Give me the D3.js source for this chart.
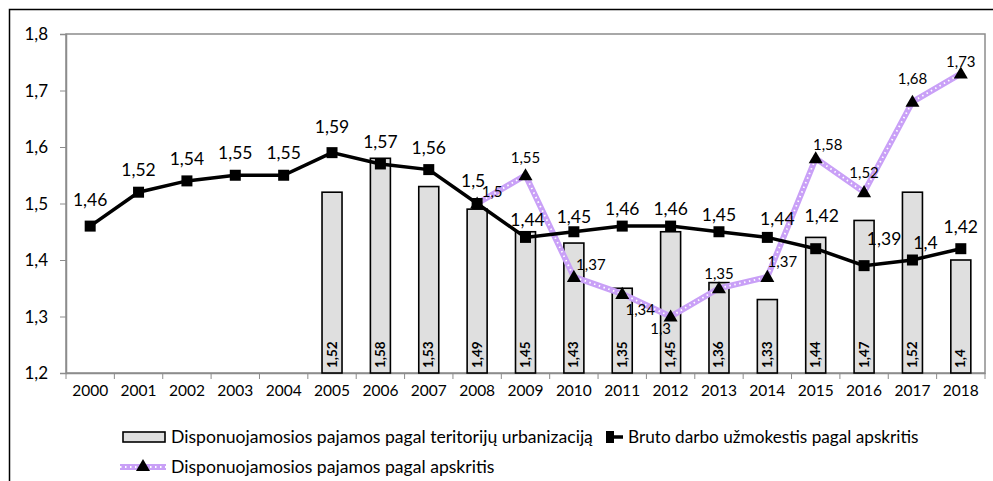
<!DOCTYPE html>
<html>
<head>
<meta charset="utf-8">
<script src="https://cdn.jsdelivr.net/npm/d3@7"></script>
<style>
  body { margin: 0; background: #fff; }
  svg text { font-family: Lato, "Open Sans", sans-serif; fill: #000; }
</style>
</head>
<body>
<div class="chart"></div>
<script>
const years = ["2000","2001","2002","2003","2004","2005","2006","2007","2008","2009","2010","2011","2012","2013","2014","2015","2016","2017","2018"];
const barYears = ["2005","2006","2007","2008","2009","2010","2011","2012","2013","2014","2015","2016","2017","2018"];
const barValues = [1.52, 1.58, 1.53, 1.49, 1.45, 1.43, 1.35, 1.45, 1.36, 1.33, 1.44, 1.47, 1.52, 1.4];
const bruto = [1.46, 1.52, 1.54, 1.55, 1.55, 1.59, 1.57, 1.56, 1.5, 1.44, 1.45, 1.46, 1.46, 1.45, 1.44, 1.42, 1.39, 1.4, 1.42];
const apsYears = ["2008","2009","2010","2011","2012","2013","2014","2015","2016","2017","2018"];
const apskritis = [1.5, 1.55, 1.37, 1.34, 1.3, 1.35, 1.37, 1.58, 1.52, 1.68, 1.73];
const yTicks = [1.2, 1.3, 1.4, 1.5, 1.6, 1.7, 1.8];
const seriesNames = [
    "Disponuojamosios pajamos pagal teritorijų urbanizaciją",
    "Bruto darbo užmokestis pagal apskritis",
    "Disponuojamosios pajamos pagal apskritis"
];

const svgWidth = 993;
const svgHeight = 481;
const plotLeft = 66, plotRight = 985, plotTop = 34, plotBottom = 373;
const fmt = v => String(v).replace(".", ",");

// label nudges (label centre relative to the point)
const brutoOffsets = {"2000": [0, -26], "2005": [0, -26], "2008": [-4, -23], "2009": [2, -18], "2010": [0, -15],
    "2011": [0, -17], "2012": [0, -17], "2013": [0, -17], "2014": [10, -19], "2015": [6, -33], "2016": [20, -27], "2017": [13, -17]};
const apsOffsets = {"2008": [15, -12], "2009": [0, -18], "2010": [17, -12], "2011": [18, 16], "2012": [-10, 12],
    "2013": [0, -15], "2014": [15, -15], "2015": [12, -14], "2016": [0, -19], "2017": [0, -23], "2018": [0, -12]};

let svg = d3.select(".chart")
    .append("svg")
    .attr("width", svgWidth)
    .attr("height", svgHeight)

// outer frame
svg.append("rect")
    .attr("x", 9.5).attr("y", 9.5)
    .attr("width", 1000).attr("height", 600)
    .attr("fill", "none")
    .attr("stroke", "#000")
    .attr("stroke-width", 1.5)

let xScale = d3.scaleBand()
    .domain(years)
    .range([plotLeft, plotRight])

let yScale = d3.scaleLinear()
    .domain([1.2, 1.8])
    .range([plotBottom, plotTop])

// plot area border
svg.append("rect")
    .attr("x", plotLeft).attr("y", plotTop)
    .attr("width", plotRight - plotLeft).attr("height", plotBottom - plotTop)
    .attr("fill", "none")
    .attr("stroke", "#8c8c8c")
    .attr("stroke-width", 1.5)

let yAxis = d3.axisLeft()
    .scale(yScale)
    .tickValues(yTicks)
    .tickFormat(d => fmt(d))
    .tickSize(6)
    .tickPadding(12)

let yAxisGroup = svg.append("g")
    .attr("transform", `translate(${plotLeft}, 0)`)
    .call(yAxis)
yAxisGroup.select(".domain").attr("stroke", "#8c8c8c").attr("stroke-width", 1.5)
yAxisGroup.selectAll(".tick line").attr("stroke", "#8c8c8c")
yAxisGroup.selectAll(".tick text").style("font-size", "17px").attr("dy", "0.35em")

let xAxisGroup = svg.append("g")
    .attr("transform", `translate(0, ${plotBottom})`)
    .call(d3.axisBottom().scale(xScale).tickSize(0).tickPadding(12))
xAxisGroup.select(".domain").attr("stroke", "#8c8c8c").attr("stroke-width", 1.5)
xAxisGroup.selectAll(".tick text").style("font-size", "15.5px")

// ticks between categories
svg.append("g").selectAll("line")
    .data(years.concat(["end"]))
    .enter().append("line")
    .attr("x1", (d, i) => plotLeft + i * xScale.bandwidth())
    .attr("x2", (d, i) => plotLeft + i * xScale.bandwidth())
    .attr("y1", plotBottom).attr("y2", plotBottom + 6)
    .attr("stroke", "#8c8c8c")

// bars
const barW = 20;
const bars = barYears.map((y, i) => ({year: y, value: barValues[i]}));
svg.append("g").selectAll("rect")
    .data(bars)
    .enter().append("rect")
    .attr("x", d => xScale(d.year) + xScale.bandwidth() / 2 - barW / 2)
    .attr("y", d => yScale(d.value))
    .attr("width", barW)
    .attr("height", d => plotBottom - yScale(d.value))
    .attr("fill", "#dfdfdf")
    .attr("stroke", "#000")
    .attr("stroke-width", 1.6)

svg.append("g").selectAll("text")
    .data(bars)
    .enter().append("text")
    .attr("transform", d => `translate(${xScale(d.year) + xScale.bandwidth() / 2 + 4.5}, ${plotBottom - 5}) rotate(-90)`)
    .style("font-size", "13.5px")
    .style("font-weight", "bold")
    .text(d => fmt(d.value))

const cx = y => xScale(y) + xScale.bandwidth() / 2;

// purple line
const aps = apsYears.map((y, i) => ({year: y, value: apskritis[i]}));
const apsLine = d3.line().x(d => cx(d.year)).y(d => yScale(d.value));
svg.append("path")
    .datum(aps)
    .attr("d", apsLine)
    .attr("fill", "none")
    .attr("stroke", "#c9a0f7")
    .attr("stroke-width", 6)
svg.append("path")
    .datum(aps)
    .attr("d", apsLine)
    .attr("fill", "none")
    .attr("stroke", "#fff")
    .attr("stroke-width", 1.8)
    .attr("stroke-dasharray", "1.5,3.5")

// black line
const br = years.map((y, i) => ({year: y, value: bruto[i]}));
svg.append("path")
    .datum(br)
    .attr("d", d3.line().x(d => cx(d.year)).y(d => yScale(d.value)))
    .attr("fill", "none")
    .attr("stroke", "#000")
    .attr("stroke-width", 3.5)

svg.append("g").selectAll("rect")
    .data(br)
    .enter().append("rect")
    .attr("x", d => cx(d.year) - 5.5)
    .attr("y", d => yScale(d.value) - 5.5)
    .attr("width", 11).attr("height", 11)
    .attr("fill", "#000")

svg.append("g").selectAll("path")
    .data(aps)
    .enter().append("path")
    .attr("d", d3.symbol().type(d3.symbolTriangle).size(85))
    .attr("transform", d => `translate(${cx(d.year)}, ${yScale(d.value) + 1})`)
    .attr("fill", "#000")

// value labels
svg.append("g").selectAll("text")
    .data(br)
    .enter().append("text")
    .attr("x", d => cx(d.year) + (brutoOffsets[d.year] || [0, -22])[0])
    .attr("y", d => yScale(d.value) + (brutoOffsets[d.year] || [0, -22])[1])
    .attr("dy", "0.35em")
    .attr("text-anchor", "middle")
    .style("font-size", "17.5px")
    .text(d => fmt(d.value))

svg.append("g").selectAll("text")
    .data(aps)
    .enter().append("text")
    .attr("x", d => cx(d.year) + apsOffsets[d.year][0])
    .attr("y", d => yScale(d.value) + apsOffsets[d.year][1])
    .attr("dy", "0.35em")
    .attr("text-anchor", "middle")
    .style("font-size", "15px")
    .text(d => fmt(d.value))

// legend
let legend = svg.append("g")
legend.append("rect")
    .attr("x", 123).attr("y", 432)
    .attr("width", 42).attr("height", 10)
    .attr("fill", "#dfdfdf").attr("stroke", "#000").attr("stroke-width", 1.6)
legend.append("text")
    .attr("x", 171).attr("y", 437).attr("dy", "0.35em")
    .style("font-size", "17.6px")
    .text(seriesNames[0])

legend.append("line")
    .attr("x1", 607).attr("x2", 623).attr("y1", 437).attr("y2", 437)
    .attr("stroke", "#000").attr("stroke-width", 3.5)
legend.append("rect")
    .attr("x", 606).attr("y", 431).attr("width", 8).attr("height", 12).attr("fill", "#000")
legend.append("text")
    .attr("x", 628).attr("y", 437).attr("dy", "0.35em")
    .style("font-size", "17.2px")
    .text(seriesNames[1])

legend.append("line")
    .attr("x1", 120).attr("x2", 166).attr("y1", 467).attr("y2", 467)
    .attr("stroke", "#c9a0f7").attr("stroke-width", 6)
legend.append("line")
    .attr("x1", 120).attr("x2", 166).attr("y1", 467).attr("y2", 467)
    .attr("stroke", "#fff").attr("stroke-width", 1.8).attr("stroke-dasharray", "1.5,3.5")
legend.append("path")
    .attr("d", d3.symbol().type(d3.symbolTriangle).size(85))
    .attr("transform", "translate(143, 467)")
    .attr("fill", "#000")
legend.append("text")
    .attr("x", 171).attr("y", 467).attr("dy", "0.35em")
    .style("font-size", "17.6px")
    .text(seriesNames[2])
</script>
</body>
</html>
